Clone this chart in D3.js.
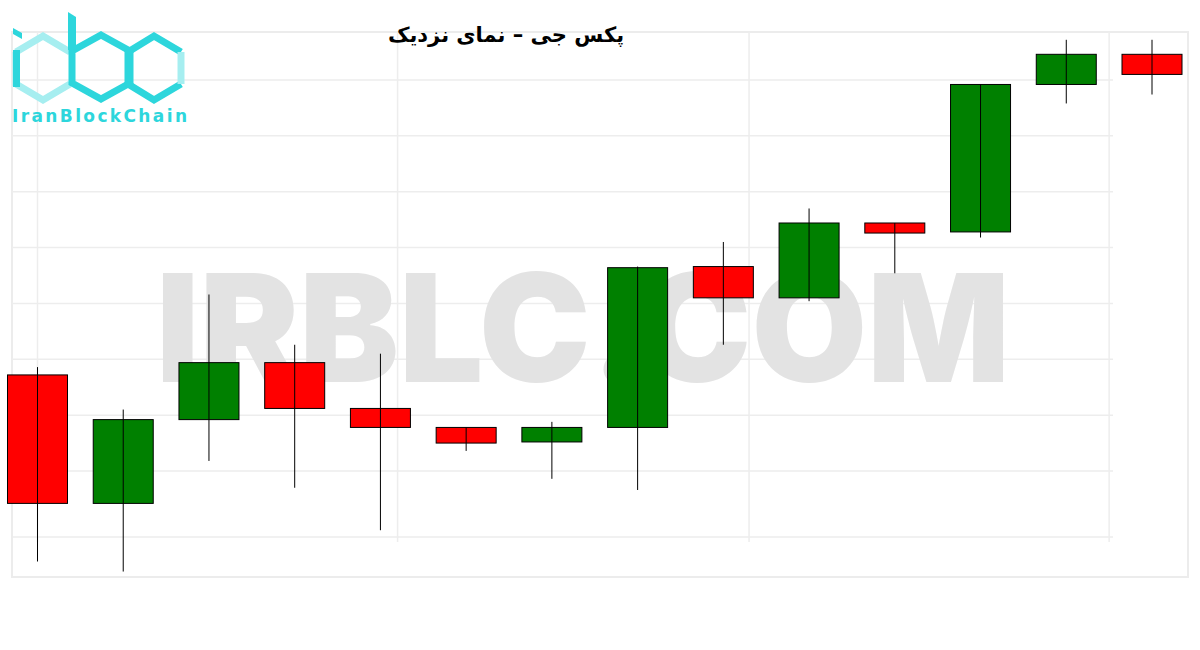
<!DOCTYPE html>
<html>
<head>
<meta charset="utf-8">
<script src="https://cdn.jsdelivr.net/npm/d3@7"></script>
<style>
  body { margin:0; background:#fff; }
  svg { display:block; }
</style>
</head>
<body>
<div class="chart"></div>
<script>
// candle values
var opens  = [108.6, 97.1, 104.6, 109.7, 105.6, 103.9, 102.6, 103.9, 118.3, 115.5, 122.2, 121.4, 134.6, 137.3];
var closes = [97.1, 104.6, 109.7, 105.6, 103.9, 102.5, 103.9, 118.2, 115.5, 122.2, 121.3, 134.6, 137.3, 135.5];
var highs  = [109.3, 105.5, 115.8, 111.3, 110.5, 103.9, 104.4, 118.3, 120.5, 123.5, 122.2, 134.6, 138.6, 138.6];
var lows   = [91.9, 91.0, 100.9, 98.5, 94.7, 101.8, 99.3, 98.3, 111.3, 115.2, 117.7, 120.9, 132.9, 133.7];

var yGrid = [94.1, 100, 105, 110, 115, 120, 125, 130, 135];
var xGrid = [0, 4.2, 8.3, 12.5];

var title = "پکس جی – نمای نزدیک";
var watermark = "IRBLC.COM";
var brand = "IranBlockChain";

var W = 1200, H = 650;

var svg = d3.select(".chart").append("svg")
            .attr("width", W)
            .attr("height", H);

var x = d3.scaleLinear().domain([0, 13]).range([37.5, 1152]);
var y = d3.scaleLinear().domain([100, 135]).range([471, 80]);
var bodyW = 60;

// outer frame
svg.append("rect")
   .attr("x", 12).attr("y", 32)
   .attr("width", 1176).attr("height", 545)
   .attr("fill", "none")
   .attr("stroke", "#ececec")
   .attr("stroke-width", 2);

// grid
svg.append("g").selectAll("line")
   .data(yGrid).enter().append("line")
   .attr("x1", 12).attr("x2", 1113)
   .attr("y1", function(d){ return y(d); })
   .attr("y2", function(d){ return y(d); })
   .attr("stroke", "#ededed")
   .attr("stroke-width", 1.5);

svg.append("g").selectAll("line")
   .data(xGrid).enter().append("line")
   .attr("x1", function(d){ return x(d); })
   .attr("x2", function(d){ return x(d); })
   .attr("y1", 32).attr("y2", 542)
   .attr("stroke", "#ededed")
   .attr("stroke-width", 1.5);

// watermark behind candles
svg.append("text")
   .attr("x", 156).attr("y", 382)
   .attr("textLength", 854)
   .attr("lengthAdjust", "spacingAndGlyphs")
   .style("font-family", "Inter, Lato, 'DejaVu Sans', sans-serif")
   .style("font-weight", 900)
   .style("font-size", "150px")
   .style("fill", "#e3e3e3")
   .text(watermark);

// candles
var idx = d3.range(opens.length);
var candles = svg.append("g").selectAll("g")
   .data(idx).enter().append("g");

candles.append("rect")
   .attr("x", function(i){ return x(i) - bodyW/2; })
   .attr("y", function(i){ return y(Math.max(opens[i], closes[i])); })
   .attr("width", bodyW)
   .attr("height", function(i){ return Math.max(1, Math.abs(y(opens[i]) - y(closes[i]))); })
   .attr("fill", function(i){ return closes[i] >= opens[i] ? "#008000" : "#ff0000"; })
   .attr("stroke", "#000")
   .attr("stroke-width", 1);

candles.append("line")
   .attr("x1", function(i){ return x(i); })
   .attr("x2", function(i){ return x(i); })
   .attr("y1", function(i){ return y(highs[i]); })
   .attr("y2", function(i){ return y(lows[i]); })
   .attr("stroke", "#000")
   .attr("stroke-width", 1);

// title
svg.append("text")
   .attr("x", 506).attr("y", 42)
   .attr("text-anchor", "middle")
   .attr("direction", "rtl")
   .style("font-family", "'DejaVu Sans', sans-serif")
   .style("font-weight", "bold")
   .style("font-size", "21px")
   .style("fill", "#000")
   .text(title);

// logo
var logo = svg.append("g");
var cyan = "#2dd6dc", light = "#a6eef0";
function hexPath(cx, top, bot, hw) {
    var q = (bot - top) / 4;
    return "M" + cx + "," + top +
           "L" + (cx + hw) + "," + (top + q) +
           "L" + (cx + hw) + "," + (bot - q) +
           "L" + cx + "," + bot +
           "L" + (cx - hw) + "," + (bot - q) +
           "L" + (cx - hw) + "," + (top + q) + "Z";
}
// i
logo.append("path")
    .attr("d", "M" + 16 + "," + 52 + "L" + 16 + "," + 84 + "L" + 43 + "," + 100 + "L" + 70 + "," + 84)
    .attr("fill", "none").attr("stroke", light).attr("stroke-width", 7);
logo.append("path")
    .attr("d", "M16,52 L43,36 L70,52")
    .attr("fill", "none").attr("stroke", light).attr("stroke-width", 7);
logo.append("path")
    .attr("d", "M13,28 L22,33 L22,39 L13,34 Z")
    .attr("fill", cyan);
logo.append("rect").attr("x", 13).attr("y", 50).attr("width", 7).attr("height", 37).attr("fill", cyan);
// b
logo.append("path").attr("d", hexPath(101, 35, 99, 29))
    .attr("fill", "none").attr("stroke", cyan).attr("stroke-width", 7);
logo.append("path").attr("d", "M68,12 L76,17 L76,50 L68,50 Z").attr("fill", cyan);
// c
logo.append("path")
    .attr("d", "M181,52 L154,36 L128,52 L128,84 L154,100 L181,84")
    .attr("fill", "none").attr("stroke", cyan).attr("stroke-width", 7);
logo.append("path").attr("d", "M181,52 L181,84")
    .attr("fill", "none").attr("stroke", light).attr("stroke-width", 7);

logo.append("text")
    .attr("x", 12).attr("y", 122)
    .attr("textLength", 175)
    .attr("lengthAdjust", "spacing")
    .style("font-family", "'DejaVu Sans', sans-serif")
    .style("font-weight", "bold")
    .style("font-size", "17px")
    .style("fill", cyan)
    .text(brand);
</script>
</body>
</html>
